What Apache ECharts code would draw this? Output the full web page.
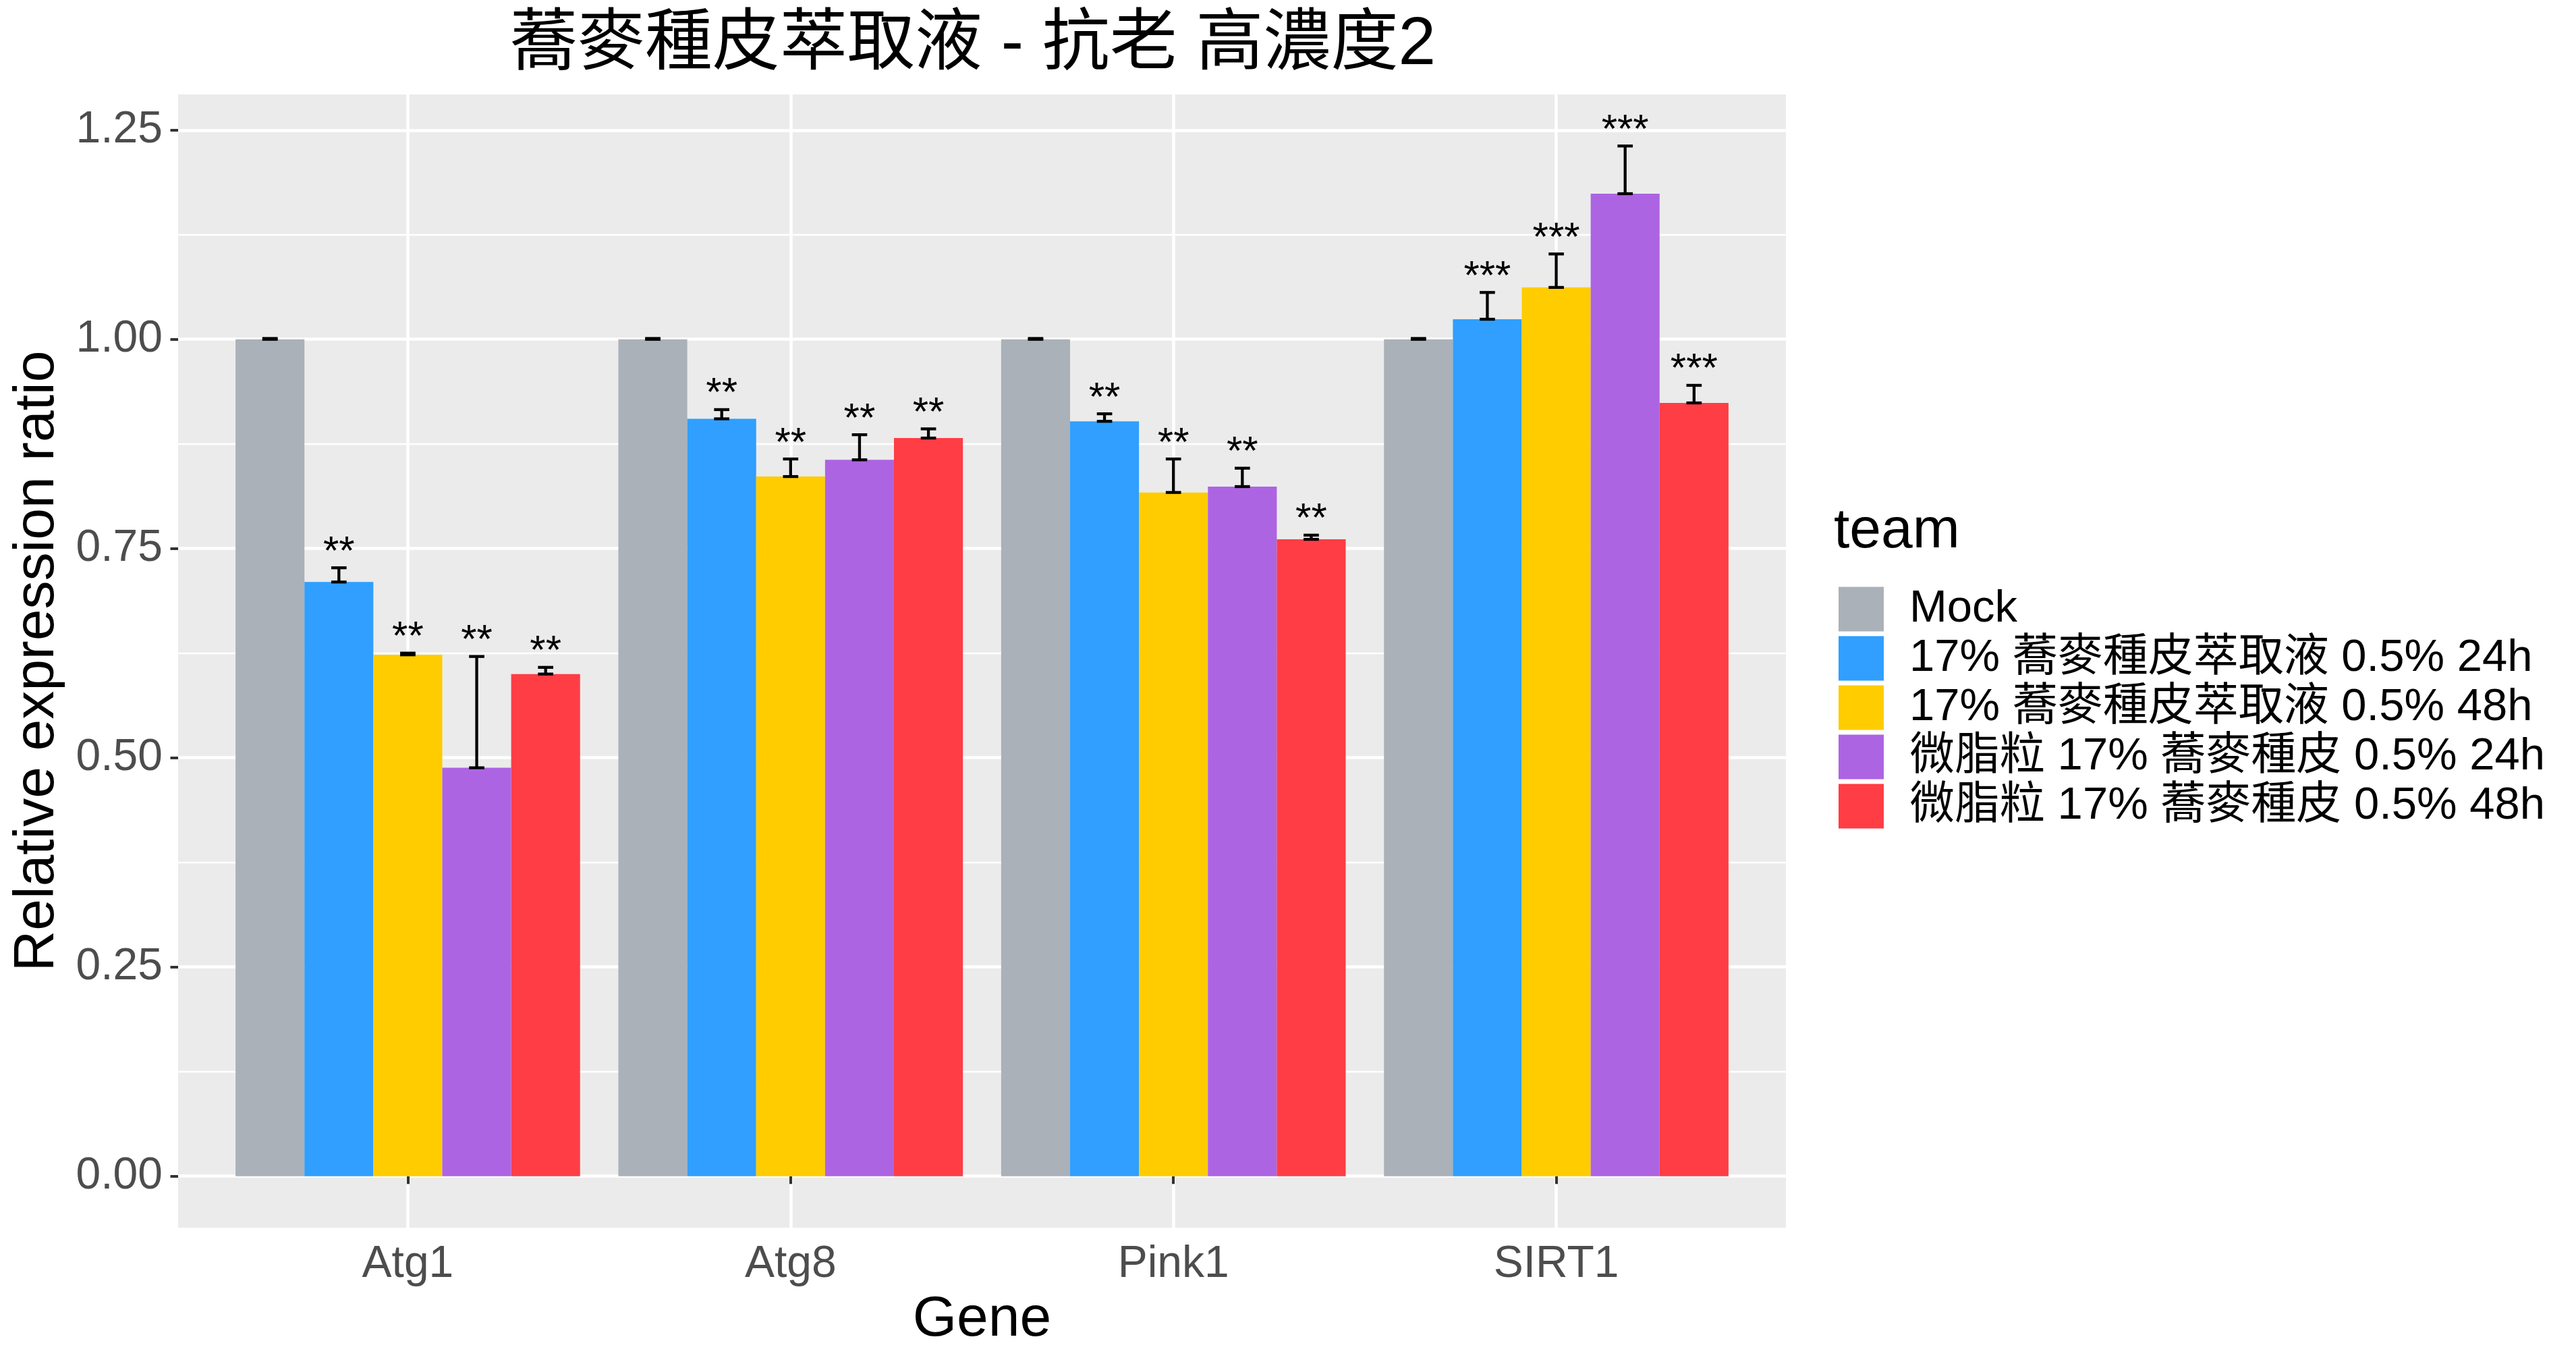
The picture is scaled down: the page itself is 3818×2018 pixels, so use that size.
<!DOCTYPE html>
<html>
<head>
<meta charset="utf-8">
<title>蕎麥種皮萃取液 - 抗老 高濃度2</title>
<script src="https://cdn.jsdelivr.net/npm/echarts@6/dist/echarts.min.js"></script>
<style>
    html, body { margin: 0; padding: 0; background: #fff; }
    #chart { width: 3818px; height: 2018px; }
</style>
</head>
<body>
<div id="chart"></div>
<script type="text/javascript">
    var genes = ['Atg1', 'Atg8', 'Pink1', 'SIRT1'];
    var teams = ['Mock', '17% 蕎麥種皮萃取液 0.5% 24h', '17% 蕎麥種皮萃取液 0.5% 48h',
                 '微脂粒 17% 蕎麥種皮 0.5% 24h', '微脂粒 17% 蕎麥種皮 0.5% 48h'];
    var teamColors = ['#ABB1B8', '#309FFF', '#FFCC00', '#AD64E2', '#FF3D45'];

    // mean and sd, one pair per team
    var mockVal   = [1.000, 1.000, 1.000, 1.000];
    var mockErr   = [0.001, 0.001, 0.001, 0.001];
    var ext24Val  = [0.710, 0.905, 0.902, 1.024];
    var ext24Err  = [0.017, 0.011, 0.009, 0.032];
    var ext48Val  = [0.623, 0.836, 0.817, 1.062];
    var ext48Err  = [0.002, 0.021, 0.040, 0.040];
    var lipo24Val = [0.488, 0.856, 0.824, 1.174];
    var lipo24Err = [0.133, 0.030, 0.022, 0.057];
    var lipo48Val = [0.600, 0.882, 0.761, 0.924];
    var lipo48Err = [0.008, 0.011, 0.005, 0.021];

    var mockStars   = ['', '', '', ''];
    var ext24Stars  = ['**', '**', '**', '***'];
    var ext48Stars  = ['**', '**', '**', '***'];
    var lipo24Stars = ['**', '**', '**', '***'];
    var lipo48Stars = ['**', '**', '**', '***'];

    var yTicks = [0, 0.25, 0.5, 0.75, 1, 1.25];
    var yMinorTicks = [0.125, 0.375, 0.625, 0.875, 1.125];
    var xTicks = [1, 2, 3, 4];

    var values = [mockVal, ext24Val, ext48Val, lipo24Val, lipo48Val];
    var errors = [mockErr, ext24Err, ext48Err, lipo24Err, lipo48Err];
    var stars  = [mockStars, ext24Stars, ext48Stars, lipo24Stars, lipo48Stars];

    var FONT = '"Liberation Sans", "Noto Sans CJK TC", sans-serif';
    var dodge = 0.18;   // 0.9 / 5 teams
    var cap = 0.02;     // half width of error bar cap

    // y range like ggplot: data range 0..max(mean+sd) expanded by 5 %
    var yTop = 0;
    values.forEach(function (vals, k) {
        vals.forEach(function (v, i) { yTop = Math.max(yTop, v + errors[k][i]); });
    });
    var yMin = -0.05 * yTop, yMax = yTop * 1.05;

    function makeRender(k) {
        return function (params, api) {
            var xc = api.value(0) + 1 + (k - 2) * dodge;
            var v = api.value(1), e = api.value(2);
            var a = api.coord([xc - dodge / 2, v]);
            var b = api.coord([xc + dodge / 2, 0]);
            var lo = api.coord([xc, v]);
            var hi = api.coord([xc, v + e]);
            var cl = api.coord([xc - cap, v]);
            var cr = api.coord([xc + cap, v]);
            var lineStyle = { stroke: '#000', lineWidth: 4.3 };
            var children = [
                { type: 'rect', shape: { x: a[0], y: a[1], width: b[0] - a[0], height: b[1] - a[1] },
                  style: { fill: teamColors[k] } },
                { type: 'line', shape: { x1: lo[0], y1: lo[1], x2: hi[0], y2: hi[1] }, style: lineStyle },
                { type: 'line', shape: { x1: cl[0], y1: lo[1], x2: cr[0], y2: lo[1] }, style: lineStyle },
                { type: 'line', shape: { x1: cl[0], y1: hi[1], x2: cr[0], y2: hi[1] }, style: lineStyle }
            ];
            var s = stars[k][params.dataIndex];
            if (s) {
                children.push({
                    type: 'text', x: hi[0], y: hi[1] - 22,
                    style: { text: s, fill: '#000', fontSize: 60, fontFamily: FONT,
                             align: 'center', verticalAlign: 'middle' }
                });
            }
            return { type: 'group', children: children };
        };
    }

    var series = teams.map(function (name, k) {
        return {
            name: name,
            type: 'custom',
            clip: false,
            itemStyle: { color: teamColors[k] },
            renderItem: makeRender(k),
            encode: { x: 0, y: 1 },
            data: genes.map(function (g, i) { return [i, values[k][i], errors[k][i]]; })
        };
    });

    var chart = echarts.init(document.getElementById('chart'));
    var option = {
        animation: false,
        backgroundColor: '#fff',
        textStyle: { fontFamily: FONT },
        grid: {
            left: 264, right: 1171, top: 140, bottom: 199,
            show: true, backgroundColor: '#EBEBEB', borderWidth: 0
        },
        graphic: [
            { type: 'text', x: 1442, y: 67,
              style: { text: '蕎麥種皮萃取液 - 抗老 高濃度2', fill: '#000', fontSize: 100, fontFamily: FONT,
                       align: 'center', verticalAlign: 'middle' } },
            { type: 'text', x: 2718, y: 788,
              style: { text: 'team', fill: '#000', fontSize: 84, fontFamily: FONT,
                       align: 'left', verticalAlign: 'middle' } }
        ],
        legend: {
            data: teams,
            orient: 'vertical',
            left: 2720, top: 864,
            icon: 'rect',
            itemWidth: 67, itemHeight: 66, itemGap: 6,
            selectedMode: false,
            textStyle: { fontSize: 67, color: '#000', fontFamily: FONT, lineHeight: 66, padding: [0, 0, 0, 33] }
        },
        xAxis: {
            type: 'value',
            min: 0.4, max: 4.6,
            name: 'Gene', nameLocation: 'middle', nameGap: 95,
            nameTextStyle: { fontSize: 84, color: '#000' },
            axisLine: { show: false },
            axisTick: { show: true, customValues: xTicks, length: 11.5, lineStyle: { color: '#333', width: 4 } },
            axisLabel: { customValues: xTicks, margin: 22, fontSize: 66, color: '#4D4D4D',
                         formatter: function (v) { return genes[Math.round(v) - 1]; } },
            splitLine: { show: true, lineStyle: { color: '#fff', width: 4.5 } }
        },
        yAxis: [{
            type: 'value',
            min: yMin, max: yMax,
            name: 'Relative expression ratio', nameLocation: 'middle', nameGap: 166,
            nameTextStyle: { fontSize: 84, color: '#000' },
            axisLine: { show: false },
            axisTick: { show: true, customValues: yTicks, length: 11.5, lineStyle: { color: '#333', width: 4 } },
            axisLabel: { customValues: yTicks, margin: 23, fontSize: 66, color: '#4D4D4D',
                         formatter: function (v) { return v.toFixed(2); } },
            splitLine: { show: true, lineStyle: { color: '#fff', width: 4.5 } }
        }, {
            type: 'value',
            min: yMin, max: yMax,
            position: 'left',
            axisLine: { show: false },
            axisTick: { show: false, customValues: yMinorTicks },
            axisLabel: { show: false, customValues: yMinorTicks },
            splitLine: { show: true, lineStyle: { color: '#fff', width: 2.3 } },
            z: 0
        }],
        series: series
    };
    chart.setOption(option);
</script>
</body>
</html>
